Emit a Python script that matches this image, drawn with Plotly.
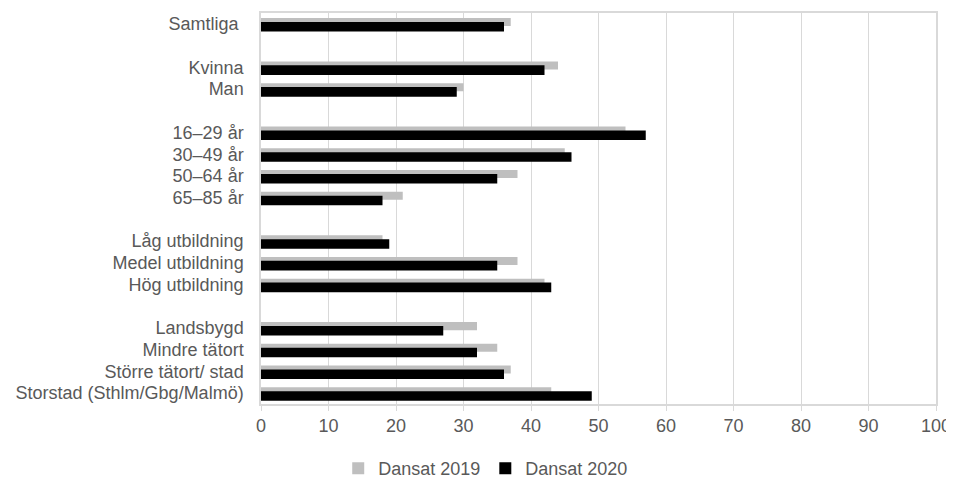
import plotly.graph_objects as go

# categories, blank entries make the gaps between groups
categories = [
    "Samtliga ", " ",
    "Kvinna", "Man", "  ",
    "16–29 år", "30–49 år", "50–64 år", "65–85 år", "   ",
    "Låg utbildning", "Medel utbildning", "Hög utbildning", "    ",
    "Landsbygd", "Mindre tätort", "Större tätort/ stad", "Storstad (Sthlm/Gbg/Malmö)",
]
dansat_2019 = [37, None, 44, 30, None, 54, 45, 38, 21, None, 18, 38, 42, None, 32, 35, 37, 43]
dansat_2020 = [36, None, 42, 29, None, 57, 46, 35, 18, None, 19, 35, 43, None, 27, 32, 36, 49]
x_ticks = [0, 10, 20, 30, 40, 50, 60, 70, 80, 90, 100]

font = "Liberation Sans, Arial, sans-serif"
grid = "#d9d9d9"
text_col = "#595959"

fig = go.Figure()
fig.add_trace(go.Bar(
    y=categories, x=dansat_2019, orientation="h", name="Dansat 2019",
    marker=dict(color="#bfbfbf", line=dict(width=0)),
    width=0.37, offset=-0.27,
))
fig.add_trace(go.Bar(
    y=categories, x=dansat_2020, orientation="h", name="Dansat 2020",
    marker=dict(color="#000000", line=dict(width=0)),
    width=0.44, offset=-0.09,
))

# page body has an 8px margin; keep the figure small enough to avoid scrollbars
fig.update_layout(
    width=946, height=470,
    margin=dict(l=253, r=17, t=3, b=74),
    barmode="overlay",
    plot_bgcolor="white", paper_bgcolor="white",
    font=dict(family=font, size=18, color=text_col),
    showlegend=True,
    legend=dict(
        orientation="h", xref="container", yref="container",
        x=0.505, y=0.02, xanchor="center", yanchor="middle",
        font=dict(size=18, color=text_col), traceorder="normal",
        itemwidth=30,
    ),
)
fig.update_xaxes(
    range=[0, 100], tickvals=x_ticks, showgrid=True, gridcolor=grid, gridwidth=1,
    showline=True, linecolor=grid, linewidth=1.5, mirror=True,
    ticks="outside", ticklen=5, tickcolor=grid, zeroline=False,
    ticklabeloverflow="allow",
    tickfont=dict(size=18, color=text_col),
)
fig.update_yaxes(
    categoryorder="array", categoryarray=categories, autorange="reversed",
    tickmode="array", tickvals=categories, ticktext=categories,
    showline=True, linecolor=grid, linewidth=1.5, mirror=True,
    showgrid=False, ticks="outside", ticklen=12, tickcolor="rgba(0,0,0,0)",
    tickfont=dict(size=18, color=text_col),
)

fig.write_html("out.html")
